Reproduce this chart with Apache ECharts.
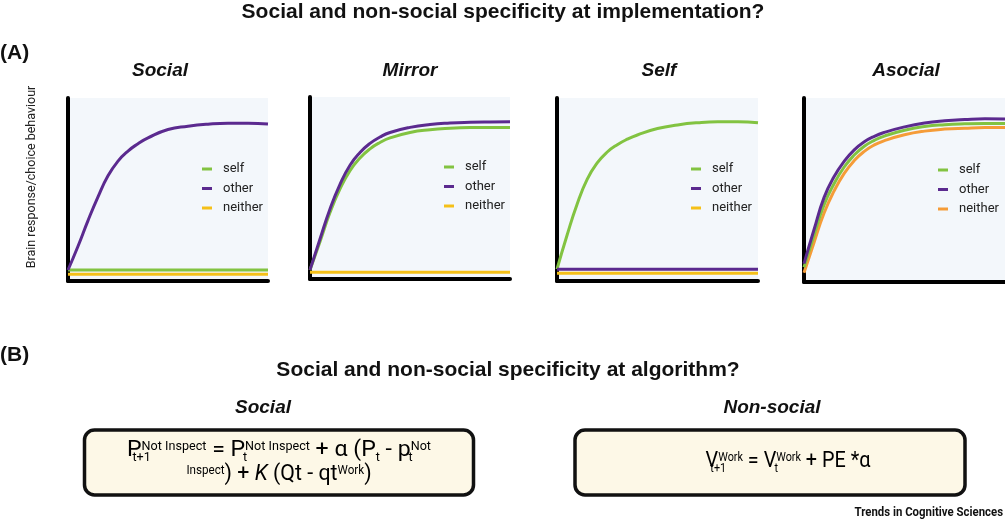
<!DOCTYPE html>
<html>
<head>
<meta charset="utf-8">
<script src="https://cdn.jsdelivr.net/npm/echarts@6/dist/echarts.min.js"></script>
<style>
  html, body { margin: 0; padding: 0; background: #fff; }
  #chart { width: 1005px; height: 522px; }
</style>
</head>
<body>
<div id="chart"></div>
<script>
const xPoints = [0, 5, 10, 15, 20, 25, 30, 35, 40, 50, 60, 70, 80, 90, 100];
const flatX = [0, 100];

// Social panel
const socialSelf = [6, 6];
const socialOther = [6, 19, 33, 46, 57.5, 65.5, 71, 75, 78.2, 82.8, 84.6, 85.7, 86.2, 86.2, 85.8];
const socialNeither = [3.7, 3.7];

// Mirror panel
const mirrorSelf = [5, 20.5, 36.5, 49.5, 59.5, 66.5, 71.5, 75, 77.5, 80.5, 82, 82.8, 83.2, 83.3, 83.2];
const mirrorOther = [5, 22, 38.5, 52, 62.5, 69.5, 74.5, 78, 80.5, 83.3, 84.9, 85.7, 86.1, 86.3, 86.4];
const mirrorNeither = [3.7, 3.7];

// Self panel
const selfSelf = [6.5, 25, 42, 55.5, 64.5, 70.5, 74.5, 77.5, 79.8, 83.3, 85.3, 86.5, 87, 87, 86.5];
const selfOther = [6.4, 6.4];
const selfNeither = [4.2, 4.2];

// Asocial panel
const asocialSelf = [8, 25.5, 42, 53.5, 62.5, 69, 73.8, 77, 79.3, 82.5, 84.5, 85.5, 86, 86.2, 86.2];
const asocialOther = [10, 28.5, 46, 57.3, 65.6, 71.8, 76.2, 79.2, 81.3, 84.3, 86.4, 87.6, 88.3, 88.7, 88.6];
const asocialNeither = [5, 21.5, 37.5, 49.5, 59, 66, 71, 74.5, 76.8, 80, 82, 83.1, 83.6, 83.9, 83.9];

const panelTitles = ['Social', 'Mirror', 'Self', 'Asocial'];
const legendNames = ['self', 'other', 'neither'];

const GREEN = '#82c341';
const PURPLE = '#5b2a8f';
const YELLOW = '#f5c018';
const ORANGE = '#f59c38';
const COND = "Roboto, 'Noto Sans', sans-serif";
const SANS = "'Liberation Sans', Arial, sans-serif";

const grids = [
  { left: 68, top: 98, width: 200, height: 183 },
  { left: 310, top: 97, width: 200, height: 182 },
  { left: 557, top: 98, width: 201, height: 183 },
  { left: 804, top: 98, width: 201, height: 184 },
];
const legendTops = [157, 155, 157, 158];

const panelData = [
  [[flatX, socialSelf], [xPoints, socialOther], [flatX, socialNeither]],
  [[xPoints, mirrorSelf], [xPoints, mirrorOther], [flatX, mirrorNeither]],
  [[xPoints, selfSelf], [flatX, selfOther], [flatX, selfNeither]],
  [[xPoints, asocialSelf], [xPoints, asocialOther], [xPoints, asocialNeither]],
];
const colors = [
  [GREEN, PURPLE, YELLOW],
  [GREEN, PURPLE, YELLOW],
  [GREEN, PURPLE, YELLOW],
  [GREEN, PURPLE, ORANGE],
];

const chart = echarts.init(document.getElementById('chart'));

const series = [];
panelData.forEach((lines, p) => {
  // neither underneath, then self, other on top
  [2, 0, 1].forEach(k => {
    const [xs, ys] = lines[k];
    series.push({
      name: legendNames[k],
      type: 'line',
      xAxisIndex: p,
      yAxisIndex: p,
      data: xs.map((x, i) => [x, ys[i]]),
      smooth: 0.5,
      showSymbol: false,
      silent: true,
      color: colors[p][k],
      lineStyle: { width: 3, color: colors[p][k] },
    });
  });
});

const boxStyle = { fill: '#fdf8e7', stroke: '#111', lineWidth: 3.5 };
// formula pieces: m = main, sp = superscript, sb = subscript, sz = subscript stacked under the next superscript
const rich = {
  m: { fontSize: 22, fontFamily: COND, color: '#111', verticalAlign: 'top', padding: [4, 0, 0, 0], lineHeight: 30 },
  k: { fontSize: 22, fontFamily: COND, fontStyle: 'italic', color: '#111', verticalAlign: 'top', padding: [4, 0, 0, 0], lineHeight: 30 },
  sp: { fontSize: 12, fontFamily: COND, color: '#111', verticalAlign: 'top', padding: [6, 0, 0, 0], lineHeight: 30 },
  sb: { fontSize: 12, fontFamily: COND, color: '#111', verticalAlign: 'top', padding: [17, 0, 0, 0], lineHeight: 30 },
  sz: { fontSize: 12, fontFamily: COND, color: '#111', verticalAlign: 'top', padding: [17, 0, 0, 0], lineHeight: 30, width: 0 },
};

chart.setOption({
  animation: false,
  grid: grids.map(g => Object.assign({
    show: true, backgroundColor: '#f3f7fb', borderWidth: 0,
  }, g)),
  xAxis: grids.map((g, i) => ({
    type: 'value', gridIndex: i, min: 0, max: 100,
    axisLine: { show: true, lineStyle: { color: '#000', width: 4 } },
    axisTick: { show: false }, axisLabel: { show: false }, splitLine: { show: false },
  })),
  yAxis: grids.map((g, i) => ({
    type: 'value', gridIndex: i, min: 0, max: 100,
    axisLine: { show: true, lineStyle: { color: '#000', width: 4 } },
    axisTick: { show: false }, axisLabel: { show: false }, splitLine: { show: false },
  })),
  legend: grids.map((g, i) => ({
    left: g.left + 129,
    top: legendTops[i],
    orient: 'vertical',
    icon: 'rect',
    itemWidth: 10,
    itemHeight: 3,
    itemGap: 5.5,
    selectedMode: false,
    data: legendNames.map((n, k) => ({ name: n, itemStyle: { color: colors[i][k] } })),
    textStyle: { fontFamily: COND, fontSize: 13, lineHeight: 14, color: '#222', padding: [0, 0, 0, 6] },
  })),
  series,
  graphic: [
    { type: 'text', x: 503, y: 12, style: { text: 'Social and non-social specificity at implementation?', font: 'bold 21px ' + SANS, fill: '#111', align: 'center', verticalAlign: 'middle' } },
    { type: 'text', x: 0, y: 53, style: { text: '(A)', font: 'bold 21px ' + SANS, fill: '#111', align: 'left', verticalAlign: 'middle' } },
    ...panelTitles.map((t, i) => ({
      type: 'text', x: [160, 410, 659, 906][i], y: 71,
      style: { text: t, font: 'italic bold 19px ' + SANS, fill: '#111', align: 'center', verticalAlign: 'middle' },
    })),
    { type: 'text', x: 32, y: 177, rotation: Math.PI / 2, style: { text: 'Brain response/choice behaviour', font: '12.5px ' + COND, fill: '#222', align: 'center', verticalAlign: 'middle' } },
    { type: 'text', x: 0, y: 355, style: { text: '(B)', font: 'bold 21px ' + SANS, fill: '#111', align: 'left', verticalAlign: 'middle' } },
    { type: 'text', x: 508, y: 370, style: { text: 'Social and non-social specificity at algorithm?', font: 'bold 21px ' + SANS, fill: '#111', align: 'center', verticalAlign: 'middle' } },
    { type: 'text', x: 263, y: 408, style: { text: 'Social', font: 'italic bold 19px ' + SANS, fill: '#111', align: 'center', verticalAlign: 'middle' } },
    { type: 'text', x: 772, y: 408, style: { text: 'Non-social', font: 'italic bold 19px ' + SANS, fill: '#111', align: 'center', verticalAlign: 'middle' } },
    { type: 'rect', shape: { x: 84.5, y: 430, width: 389, height: 65, r: 10 }, style: boxStyle },
    { type: 'rect', shape: { x: 575, y: 430, width: 390, height: 65, r: 10 }, style: boxStyle },
    { type: 'text', x: 279, y: 450, scaleX: 1.05, style: {
      text: '{m|P}{sz|t+1}{sp|Not Inspect}{m| = P}{sz|t}{sp|Not Inspect}{m| + α (P}{sb|t}{m| - p}{sz|t}{sp|Not}',
      rich, align: 'center', verticalAlign: 'middle' } },
    { type: 'text', x: 279, y: 474, scaleX: 0.97, style: {
      text: '{sp|Inspect}{m|) + }{k|K}{m| (Qt - qt}{sp|Work}{m|)}',
      rich, align: 'center', verticalAlign: 'middle' } },
    { type: 'text', x: 788, y: 461, scaleX: 0.9, style: {
      text: '{m|V}{sz|t+1}{sp|Work}{m| = V}{sz|t}{sp|Work}{m| + PE *α}',
      rich, align: 'center', verticalAlign: 'middle' } },
    { type: 'text', x: 1003, y: 513, scaleX: 0.95, style: { text: 'Trends in Cognitive Sciences', font: 'bold 12px ' + COND, fill: '#111', align: 'right', verticalAlign: 'middle' } },
  ],
});

window.addEventListener('resize', () => chart.resize());
</script>
</body>
</html>
